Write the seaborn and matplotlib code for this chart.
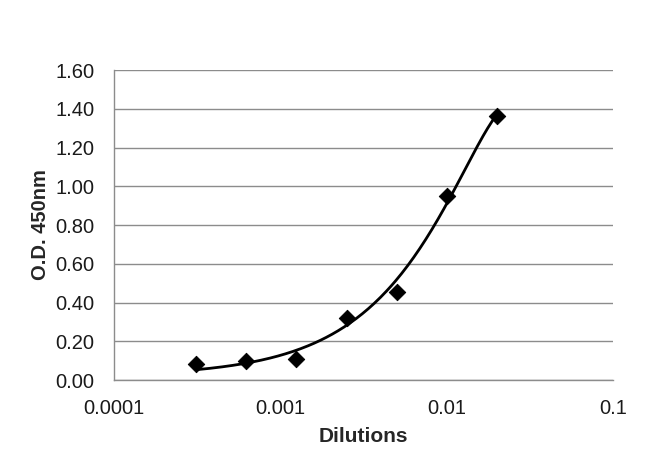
import numpy as np
import pandas as pd
import matplotlib
matplotlib.use("Agg")
import matplotlib.pyplot as plt
import seaborn as sns
from matplotlib.ticker import FixedLocator, FixedFormatter, NullLocator

# measured points
dilutions = [0.0003125, 0.000625, 0.00125, 0.0025, 0.005, 0.01, 0.02]
od450 = [0.083, 0.098, 0.108, 0.318, 0.453, 0.950, 1.363]

x_ticks = [0.0001, 0.001, 0.01, 0.1]
x_labels = ["0.0001", "0.001", "0.01", "0.1"]
y_ticks = [0.0, 0.2, 0.4, 0.6, 0.8, 1.0, 1.2, 1.4, 1.6]

sns.set_style("white")
plt.rcParams['font.family'] = ['Liberation Sans', 'DejaVu Sans']

df = pd.DataFrame({"Dilutions": dilutions, "OD": od450})

# 2nd order polynomial trendline (linear x), like the spreadsheet one
coef = np.polyfit(df["Dilutions"], df["OD"], 2)
xs = np.geomspace(min(dilutions), max(dilutions), 200)
trend = pd.DataFrame({"Dilutions": xs, "OD": np.polyval(coef, xs)})

fig = plt.figure(figsize=(6.5, 4.74), dpi=100)
ax = fig.add_axes([0.1754, 0.1983, 0.7677, 0.6540])

ax.set_xscale("log")
sns.lineplot(data=trend, x="Dilutions", y="OD", ax=ax, color="black", lw=2.0)
sns.scatterplot(data=df, x="Dilutions", y="OD", ax=ax, marker="D", s=70,
                color="black", edgecolor="black", zorder=3)

ax.set_xlim(0.0001, 0.1)
ax.set_ylim(0, 1.6)
ax.xaxis.set_major_locator(FixedLocator(x_ticks))
ax.xaxis.set_major_formatter(FixedFormatter(x_labels))
ax.xaxis.set_minor_locator(NullLocator())
ax.set_yticks(y_ticks)
ax.set_yticklabels([f"{v:.2f}" for v in y_ticks])

ax.yaxis.grid(True, color="#8c8c8c", lw=1.0)
ax.xaxis.grid(False)
ax.set_axisbelow(True)
for s in ["top", "right"]:
    ax.spines[s].set_visible(False)
for s in ["left", "bottom"]:
    ax.spines[s].set_color("#8c8c8c")
    ax.spines[s].set_linewidth(1.0)
ax.tick_params(axis="both", which="major", length=5, width=1.0, color="#8c8c8c",
               labelsize=14.5, labelcolor="#1a1a1a")
ax.tick_params(axis="y", pad=9)
ax.tick_params(axis="x", pad=9)

ax.set_xlabel("Dilutions", fontsize=15, fontweight="bold", labelpad=6)
ax.set_ylabel("O.D. 450nm", fontsize=14.5, fontweight="bold", labelpad=4)

fig.savefig("out.png", dpi=100)
